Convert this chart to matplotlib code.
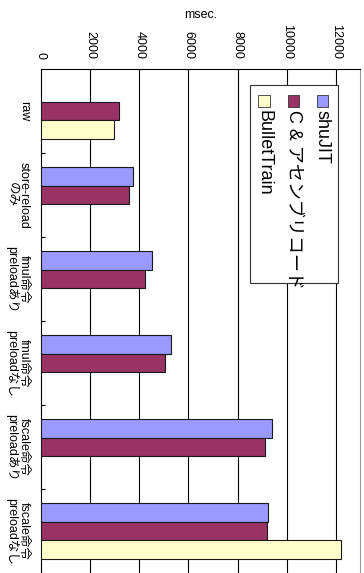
import numpy as np
import matplotlib
matplotlib.use("Agg")
import matplotlib.pyplot as plt
from matplotlib.patches import Rectangle
from matplotlib.transforms import blended_transform_factory

plt.rcParams['font.family'] = ['Liberation Sans', 'Noto Sans CJK JP', 'DejaVu Sans']

# Benchmark data (msec.)
categories = ["raw", "store-reload\nのみ", "fmul命令\npreloadあり", "fmul命令\npreloadなし",
              "fscale命令\npreloadあり", "fscale命令\npreloadなし"]
series_names = ["shuJIT", "C & アセンブリコード", "BulletTrain"]
shujit = [np.nan, 3730, 4500, 5290, 9390, 9240]
c_asm = [3160, 3580, 4250, 5060, 9100, 9200]
bullet = [2990, np.nan, np.nan, np.nan, np.nan, 12220]
colors = ["#9999FF", "#993366", "#FFFFCC"]
value_ticks = [0, 2000, 4000, 6000, 8000, 10000, 12000]

W, H = 364, 573
fig = plt.figure(figsize=(W / 100, H / 100), dpi=100)
ax = fig.add_axes([41 / W, 0, (360 - 41) / W, (H - 69) / H])

y = np.arange(len(categories))
bh = 0.22
for k, (vals, col) in enumerate(zip([shujit, c_asm, bullet], colors)):
    vals = np.asarray(vals, dtype=float)
    m = ~np.isnan(vals)
    ax.barh(y[m] + (k - 1) * bh, vals[m], height=bh, color=col,
            edgecolor="#1a1a1a", linewidth=0.8, zorder=3)

ax.set_xlim(0, 12980)
ax.set_ylim(len(categories) - 0.5, -0.5)

# value axis on top, labels reading downwards
ax.xaxis.tick_top()
ax.set_xticks(value_ticks)
ax.set_xticklabels([str(v) for v in value_ticks], rotation=-90, fontsize=9,
                   va="bottom", ha="center")
ax.tick_params(axis="x", length=0, pad=7.5)
for v in value_ticks[1:]:
    ax.axvline(v, color="black", linewidth=0.8, zorder=1)

# category axis: small inward ticks at group boundaries
ax.set_yticks([])
ax.set_yticks(np.arange(0.5, len(categories) - 0.5 + 0.01, 1.0), minor=True)
ax.tick_params(axis="y", which="minor", direction="in", length=3, width=0.8, color="black")
ax.tick_params(axis="y", which="major", length=0)

tr = blended_transform_factory(fig.transFigure, ax.transData)
for i, lab in enumerate(categories):
    ax.text(30 / W, i, lab, transform=tr, rotation=-90, ha="right", va="center",
            multialignment="center", fontsize=9, linespacing=1.0)

for s in ("left", "top"):
    ax.spines[s].set_color("black")
    ax.spines[s].set_linewidth(0.8)
ax.spines["right"].set_color("#9a9a9a")
ax.spines["right"].set_linewidth(0.8)
ax.spines["bottom"].set_visible(False)

fig.text(200.5 / W, 1 - 15 / H, "msec.", ha="center", va="center", fontsize=9)

# legend drawn in the same orientation as the chart
box = Rectangle((250 / W, 1 - 283 / H), (338 - 250) / W, (283 - 85) / H,
                transform=fig.transFigure, facecolor="white", edgecolor="#333333",
                linewidth=0.8, zorder=5)
fig.add_artist(box)
leg_x = [322.5, 293.5, 264.0]
for name, col, lx in zip(series_names, colors, leg_x):
    sq = Rectangle(((lx - 5.8) / W, 1 - 106.7 / H), 11.6 / W, 11.6 / H,
                   transform=fig.transFigure, facecolor=col, edgecolor="#333333",
                   linewidth=0.6, zorder=6)
    fig.add_artist(sq)
    fig.text(lx / W, 1 - 110.5 / H, name, rotation=-90, ha="center", va="top",
             fontsize=13, zorder=6)

fig.savefig("out.png", dpi=100)
